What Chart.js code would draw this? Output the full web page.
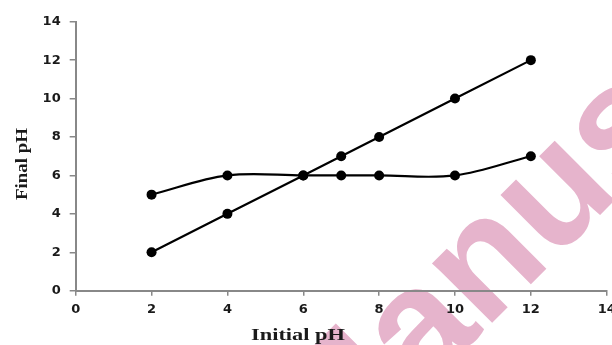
<!DOCTYPE html>
<html>
<head>
<meta charset="utf-8">
<script src="https://cdn.jsdelivr.net/npm/chart.js@4"></script>
<style>
  html, body { margin: 0; padding: 0; background: #fff; }
  #wrap { width: 612px; height: 345px; position: relative; }
</style>
</head>
<body>
<div id="wrap"><canvas id="c" width="612" height="345"></canvas></div>
<script>
// Initial pH of each run and the final pH measured for the two series
const initialPH = [2, 4, 6, 7, 8, 10, 12];
const finalPH_line = [2, 4, 6, 7, 8, 10, 12];
const finalPH_curve = [5, 6, 6, 6, 6, 6, 7];

// Axis ranges and tick spacing
const xRange = [0, 14];
const yRange = [0, 14];
const tickStep = 2;

const xTitle = 'Initial pH';
const yTitle = 'Final pH';
const watermarkText = 'Manuscript';

const toPoints = (xs, ys) => xs.map((x, i) => ({ x, y: ys[i] }));

// White background plus the pink watermark behind the axes
const backdrop = {
  id: 'backdrop',
  beforeDraw(chart) {
    const ctx = chart.ctx;
    ctx.save();
    ctx.fillStyle = '#ffffff';
    ctx.fillRect(0, 0, chart.width, chart.height);
    ctx.translate(327, 488);
    ctx.rotate(-45 * Math.PI / 180);
    ctx.font = 'bold 160px "Liberation Sans", Arial, sans-serif';
    ctx.fillStyle = '#e6b4cc';
    ctx.textBaseline = 'alphabetic';
    ctx.textAlign = 'left';
    ctx.fillText(watermarkText, 0, 0);
    ctx.restore();
  }
};

// Axis titles, drawn in a wide serif face
const axisTitles = {
  id: 'axisTitles',
  afterDraw(chart) {
    const ctx = chart.ctx;
    ctx.save();
    ctx.fillStyle = '#1a1a1a';
    ctx.textAlign = 'center';
    ctx.textBaseline = 'alphabetic';

    ctx.font = 'bold 17px "Liberation Serif", "Times New Roman", serif';
    let w = ctx.measureText(xTitle).width;
    ctx.save();
    ctx.translate(298, 340);
    ctx.scale(94 / w, 1);
    ctx.fillText(xTitle, 0, 0);
    ctx.restore();

    ctx.font = 'bold 16px "Liberation Serif", "Times New Roman", serif';
    w = ctx.measureText(yTitle).width;
    ctx.save();
    ctx.translate(27, 164);
    ctx.rotate(-Math.PI / 2);
    ctx.scale(72 / w, 1);
    ctx.fillText(yTitle, 0, 0);
    ctx.restore();

    ctx.restore();
  }
};

const tickFont = { family: '"DejaVu Sans", Verdana, sans-serif', weight: 'bold', size: 13 };
const axisGray = '#888888';

const seriesStyle = {
  borderColor: '#000000',
  backgroundColor: '#000000',
  borderWidth: 2.2,
  pointRadius: 5,
  pointHoverRadius: 5,
  pointBackgroundColor: '#000000',
  pointBorderColor: '#000000',
  pointBorderWidth: 0,
  fill: false
};

new Chart(document.getElementById('c'), {
  type: 'line',
  data: {
    datasets: [
      Object.assign({ label: 'Final pH (series 1)', data: toPoints(initialPH, finalPH_line), tension: 0 }, seriesStyle),
      Object.assign({ label: 'Final pH (series 2)', data: toPoints(initialPH, finalPH_curve), tension: 0.35 }, seriesStyle)
    ]
  },
  plugins: [backdrop, axisTitles],
  options: {
    responsive: false,
    animation: false,
    events: [],
    layout: { padding: { left: 0, right: 5.3, top: 21.7, bottom: 0 } },
    plugins: {
      legend: { display: false },
      tooltip: { enabled: false },
      title: { display: false }
    },
    scales: {
      x: {
        type: 'linear',
        min: xRange[0],
        max: xRange[1],
        afterFit(scale) {
          scale.height = 345 - 290.7;
          scale.paddingLeft = 0;
          scale.paddingRight = 0;
        },
        ticks: { stepSize: tickStep, color: '#1a1a1a', font: tickFont, padding: 6, maxRotation: 0 },
        grid: { display: true, drawOnChartArea: false, drawTicks: true, tickLength: 5, color: axisGray, lineWidth: 1.5 },
        border: { display: true, color: axisGray, width: 2 }
      },
      y: {
        type: 'linear',
        min: yRange[0],
        max: yRange[1],
        afterFit(scale) {
          scale.width = 75.7;
          scale.paddingTop = 0;
          scale.paddingBottom = 0;
        },
        ticks: { stepSize: tickStep, color: '#1a1a1a', font: tickFont, padding: 9 },
        grid: { display: true, drawOnChartArea: false, drawTicks: true, tickLength: 6, color: axisGray, lineWidth: 1.5 },
        border: { display: true, color: axisGray, width: 2 }
      }
    }
  }
});
</script>
</body>
</html>
